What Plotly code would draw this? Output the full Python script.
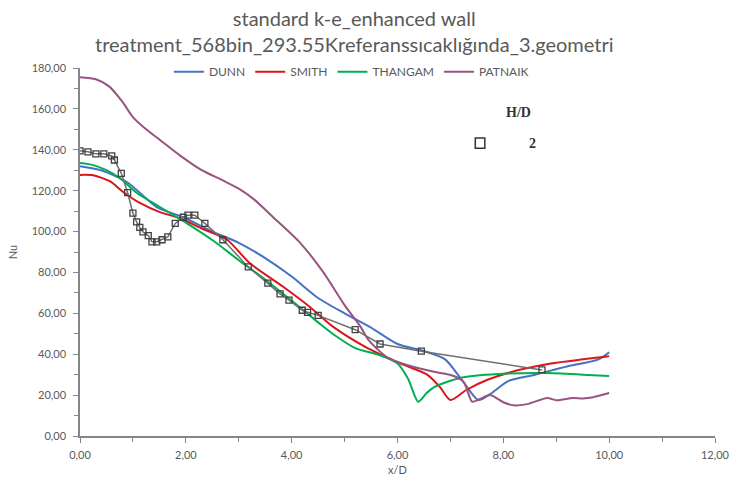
import plotly.graph_objects as go

# Model correlations: Nu vs x/D
dunn_x = [0, 0.4, 0.9, 1.45, 1.95, 2.5, 3.0, 3.5, 4.0, 4.5, 5.0, 5.5, 6.0, 6.5, 6.9, 7.2, 7.53, 7.75, 8.1, 8.6, 9.2, 9.8, 10.0]
dunn_y = [132, 130, 124, 112, 107, 100, 94.5, 87, 78, 67.5, 60, 53, 45, 41.5, 37.5, 28, 17.6, 20.5, 27, 30, 34, 37.5, 41]

smith_x = [0, 0.25, 0.57, 0.81, 1.13, 1.51, 1.89, 2.3, 2.78, 3.21, 3.84, 4.35, 4.78, 5.4, 6.05, 6.56, 6.8, 7.0, 7.3, 7.7, 8.25, 8.9, 9.5, 10.0]
smith_y = [127.7, 127.5, 124.5, 119.5, 114, 109.5, 106.5, 101.5, 96, 84.5, 73, 63, 53.5, 43.5, 35.5, 30, 24, 17.6, 22.5, 27.5, 32, 35.5, 37.5, 39]

thangam_x = [0, 0.25, 0.5, 0.76, 1.07, 1.51, 2.02, 2.52, 3.0, 3.5, 3.84, 4.2, 4.55, 4.8, 5.2, 5.67, 6.0, 6.2, 6.39, 6.55, 6.7, 7.2, 7.9, 8.8, 9.5, 10.0]
thangam_y = [133.5, 132.5, 130, 126, 119, 112, 104, 95.5, 86, 76.5, 69.5, 62, 54.5, 49.5, 43, 39.5, 35.5, 28, 16.8, 21, 24, 28.5, 30.3, 30.8, 30, 29.3]

patnaik_x = [0, 0.3, 0.55, 0.8, 1.0, 1.25, 1.5, 1.9, 2.3, 2.7, 3.0, 3.3, 3.65, 4.16, 4.6, 5.0, 5.3, 5.45, 5.8, 6.18, 6.67, 7.05, 7.25, 7.41, 7.55, 7.75, 8.0, 8.19, 8.45, 8.83, 9.0, 9.32, 9.5, 9.7, 10.0]
patnaik_y = [175.5, 174.5, 171, 163.5, 156, 150, 145, 137, 130, 125, 121, 115.5, 107, 94.5, 80, 64, 53.5, 47, 38.6, 34.7, 31.5, 29.5, 26.5, 16.8, 18, 20, 16.5, 15, 15.6, 18.6, 17.5, 18.6, 18.4, 19, 21]

# Measured data, H/D = 2
exp_x = [0.0, 0.15, 0.3, 0.45, 0.6, 0.65, 0.78, 0.9, 1.0, 1.07, 1.13, 1.19, 1.29, 1.36, 1.45, 1.55, 1.66, 1.8, 1.95, 2.04, 2.17, 2.36, 2.7, 3.18, 3.55, 3.78, 3.95, 4.2, 4.3, 4.5, 5.2, 5.67, 6.45, 8.73]
exp_y = [139.5, 139, 138, 138, 137, 135, 128.5, 119, 109, 104.7, 102, 99.8, 98, 95, 95, 96, 97.4, 104, 107, 108, 108, 104, 96, 82.7, 74.8, 69.5, 66.5, 61.5, 60.5, 59, 52, 45, 41.5, 32.3]

series = [
    ("DUNN", dunn_x, dunn_y, "#4472C4"),
    ("SMITH", smith_x, smith_y, "#D9161A"),
    ("THANGAM", thangam_x, thangam_y, "#00B050"),
    ("PATNAIK", patnaik_x, patnaik_y, "#98547F"),
]

fig = go.Figure()
for name, xs, ys, col in series:
    fig.add_trace(go.Scatter(
        x=xs, y=ys, name=name, mode="lines",
        line=dict(color=col, width=2, shape="spline", smoothing=0.7),
    ))

fig.add_trace(go.Scatter(
    x=exp_x, y=exp_y, mode="lines+markers", showlegend=False,
    line=dict(color="#6F6F6F", width=1.5),
    marker=dict(symbol="square-open", size=6, color="#404040", line=dict(width=1.3)),
))

axis_col = "#868686"
label_col = "#595959"
serif = "Liberation Serif, serif"

fig.update_layout(
    width=732, height=486,
    margin=dict(l=80, r=17, t=68, b=50),
    paper_bgcolor="white", plot_bgcolor="white",
    separators=",.",
    font=dict(family="Lato, Open Sans, sans-serif", color=label_col, size=11),
    title=dict(
        text="standard k-e_enhanced wall<br>treatment_568bin_293.55Kreferanssıcaklığında_3.geometri",
        x=0.484, xanchor="center", y=0.947, yanchor="middle",
        font=dict(family="Lato, sans-serif", size=20, color=label_col),
    ),
    legend=dict(
        orientation="h", x=0.14, y=0.99, xanchor="left", yanchor="middle",
        font=dict(size=12, color=label_col), bgcolor="rgba(0,0,0,0)",
        itemwidth=30, tracegroupgap=0,
    ),
    xaxis=dict(
        range=[0, 12], dtick=2, tickformat=".2f", automargin=False,
        showgrid=False, zeroline=False,
        showline=True, linecolor=axis_col, linewidth=1.5,
        ticks="outside", ticklen=5, tickcolor=axis_col, ticklabelstandoff=3,
        minor=dict(dtick=1, ticks="outside", ticklen=4, tickcolor=axis_col),
        title=dict(text="x/D", font=dict(size=11, color=label_col), standoff=6),
        tickfont=dict(size=11, color=label_col),
    ),
    yaxis=dict(
        range=[0, 180], dtick=20, tickformat=".2f", automargin=False,
        showgrid=False, zeroline=False,
        showline=True, linecolor=axis_col, linewidth=1.5,
        ticks="outside", ticklen=5, tickcolor=axis_col, ticklabelstandoff=5,
        minor=dict(dtick=10, ticks="outside", ticklen=4, tickcolor=axis_col),
        title=dict(text="Nu", font=dict(size=11, color=label_col), standoff=12),
        tickfont=dict(size=11, color=label_col),
    ),
    annotations=[
        dict(text="<b>H/D</b>", x=0.69, y=0.88, xref="paper", yref="paper",
             xanchor="center", yanchor="middle",
             showarrow=False, font=dict(family=serif, size=14, color="#333333")),
        dict(text="<b>2</b>", x=0.713, y=0.796, xref="paper", yref="paper",
             xanchor="center", yanchor="middle",
             showarrow=False, font=dict(family=serif, size=14, color="#333333")),
    ],
    shapes=[
        dict(type="rect", xref="paper", yref="paper",
             x0=0.6225, x1=0.6375, y0=0.782, y1=0.81,
             line=dict(color="#333333", width=1.5), fillcolor="white"),
    ],
)

fig.write_html("out.html")
